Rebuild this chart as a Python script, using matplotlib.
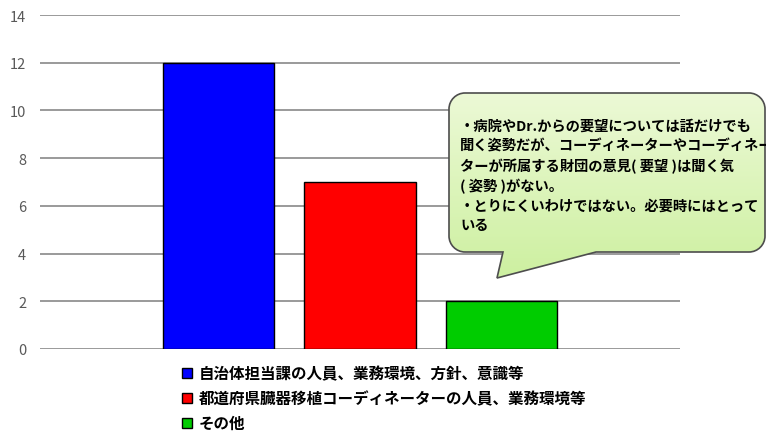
import numpy as np
import matplotlib.pyplot as plt
from matplotlib.path import Path
from matplotlib.patches import PathPatch
from matplotlib.colors import LinearSegmentedColormap

plt.rcParams['font.family'] = ['Noto Sans CJK JP', 'DejaVu Sans']

labels = ['自治体担当課の人員、業務環境、方針、意識等',
          '都道府県臓器移植コーディネーターの人員、業務環境等',
          'その他']
values = [12, 7, 2]
colors = ['#0000ff', '#ff0000', '#00cc00']
yticks = [0, 2, 4, 6, 8, 10, 12, 14]

note_lines = ['・病院やDr.からの要望については話だけでも',
              '聞く姿勢だが、コーディネーターやコーディネー',
              'ターが所属する財団の意見( 要望 )は聞く気',
              '( 姿勢 )がない。',
              '・とりにくいわけではない。必要時にはとって',
              'いる']

W, H = 766, 435
fig = plt.figure(figsize=(W / 100, H / 100), dpi=100)
ax = fig.add_axes([40 / W, 1 - 350 / H, 640 / W, 334 / H])

x = np.arange(len(values))
for i, (v, c, lab) in enumerate(zip(values, colors, labels)):
    ax.bar(x[i], v, width=0.785, color=c, edgecolor='black', linewidth=1.0,
           label=lab, zorder=3)

ax.set_ylim(0, 14)
ax.set_xlim(-1.26, 3.26)
ax.set_yticks(yticks)
ax.set_xticks([])
ax.tick_params(axis='y', length=0, labelsize=10.5, labelcolor='#595959', pad=10)
for s in ax.spines.values():
    s.set_visible(False)
ax.grid(axis='y', color='#7f7f7f', linewidth=1.1, zorder=0)
ax.set_axisbelow(True)

leg = ax.legend(loc='upper left', bbox_to_anchor=(176 / W, 1 - 360 / H),
                bbox_transform=fig.transFigure, frameon=False,
                prop={'size': 11.2, 'weight': 'bold'},
                handlelength=0.6, handleheight=0.6, handletextpad=0.45,
                labelspacing=0.58, borderaxespad=0)
for h in leg.legend_handles:
    h.set_linewidth(1.0)

# callout bubble, drawn in pixel coordinates
ov = fig.add_axes([0, 0, 1, 1])
ov.set_xlim(0, W)
ov.set_ylim(H, 0)
ov.axis('off')

L, T, R, B, r = 449, 94, 765, 253, 16
k = 0.55 * r
verts = [
    (L + r, T), (R - r, T),
    (R - r + k, T), (R, T + r - k), (R, T + r),
    (R, B - r),
    (R, B - r + k), (R - r + k, B), (R - r, B),
    (596, B), (497, 279), (503, B),
    (L + r, B),
    (L + r - k, B), (L, B - r + k), (L, B - r),
    (L, T + r),
    (L, T + r - k), (L + r - k, T), (L + r, T),
    (L + r, T),
]
codes = [Path.MOVETO, Path.LINETO,
         Path.CURVE4, Path.CURVE4, Path.CURVE4,
         Path.LINETO,
         Path.CURVE4, Path.CURVE4, Path.CURVE4,
         Path.LINETO, Path.LINETO, Path.LINETO,
         Path.LINETO,
         Path.CURVE4, Path.CURVE4, Path.CURVE4,
         Path.LINETO,
         Path.CURVE4, Path.CURVE4, Path.CURVE4,
         Path.CLOSEPOLY]
bubble = PathPatch(Path(verts, codes), facecolor='none', edgecolor='#4d4d4d',
                   linewidth=1.2, zorder=5)
ov.add_patch(bubble)

cmap = LinearSegmentedColormap.from_list('note', ['#ecf9d6', '#cdf0a0'])
grad = np.linspace(0, 1, 200).reshape(-1, 1)
img = ov.imshow(grad, cmap=cmap, extent=(L, W, 280, T), aspect='auto', zorder=4)
img.set_clip_path(bubble)

for i, line in enumerate(note_lines):
    ov.text(460, 127 + i * 19.9, line, fontsize=10.3, fontweight='bold',
            color='black', va='center', ha='left', zorder=6)

fig.savefig('out.png', dpi=100)
